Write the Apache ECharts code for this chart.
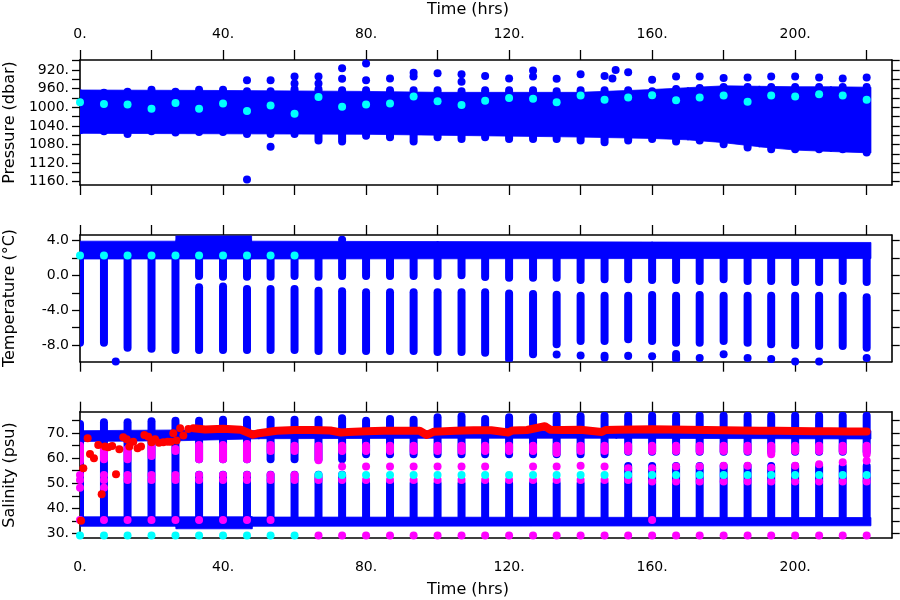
<!DOCTYPE html>
<html><head><meta charset="utf-8">
<script src="https://cdn.jsdelivr.net/npm/echarts@6/dist/echarts.min.js"></script>
<style>html,body{margin:0;padding:0;background:#fff}#c{width:900px;height:600px}</style>
</head><body><div id="c"></div>
<script>
// ---------- axes / ticks ----------
const timeTicks = [0, 20, 40, 60, 80, 100, 120, 140, 160, 180, 200, 220];
const timeLabels = [0, 40, 80, 120, 160, 200];
const pressureTicks = [900, 920, 940, 960, 980, 1000, 1020, 1040, 1060, 1080, 1100, 1120, 1140, 1160];
const pressureLabels = [920, 960, 1000, 1040, 1080, 1120, 1160];
const tempTicks = [-8, -6, -4, -2, 0, 2, 4];
const tempLabels = [-8, -4, 0, 4];
const salTicks = [30, 35, 40, 45, 50, 55, 60, 65, 70, 75];
const salLabels = [30, 40, 50, 60, 70];

// ---------- cast times (hrs) ----------
const castTimes = [0, 6.7, 13.3, 20, 26.7, 33.3, 40, 46.7, 53.3, 60, 66.7, 73.3, 80, 86.7, 93.3, 100, 106.7, 113.3, 120, 126.7, 133.3, 140, 146.7, 153.3, 160, 166.7, 173.3, 180, 186.7, 193.3, 200, 206.7, 213.3, 220];

// ---------- pressure ----------
const pBandT   = [0, 40, 80, 100, 140, 160, 170, 180, 190, 200, 210, 221];
const pBandTop = [963, 964, 966, 968, 968, 962, 958, 954, 955, 956, 956, 957];
const pBandBot = [1056, 1057, 1058, 1060, 1064, 1067, 1070, 1076, 1085, 1092, 1095, 1098];
const pColTop = [962, 960, 958, 954, 958, 954, 954, 957, 957, 953, 953, 955, 955, 955, 955, 955, 957, 955, 955, 955, 957, 955, 955, 955, 957, 952, 950, 948, 948, 948, 948, 948, 948, 948];
const pColBot = [1058, 1060, 1066, 1060, 1063, 1062, 1062, 1066, 1066, 1066, 1080, 1082, 1070, 1073, 1082, 1073, 1077, 1073, 1077, 1077, 1077, 1080, 1084, 1080, 1077, 1082, 1080, 1088, 1095, 1099, 1099, 1099, 1099, 1106];
const pOutT = [46.7, 46.7, 53.3, 53.3, 60, 60, 66.7, 66.7, 73.3, 73.3, 80, 80, 86.7, 93.3, 93.3, 100, 106.7, 106.7, 113.3, 120, 126.7, 126.7, 133.3, 140, 146.7, 148.9, 149.8, 153.3, 160, 166.7, 173.3, 180, 186.7, 193.3, 200, 206.7, 213.3, 220];
const pOutP = [942, 1155, 942, 1085, 934, 949, 934, 949, 916, 939, 906, 942, 938, 926, 934, 927, 929, 945, 933, 938, 921, 934, 939, 929, 933, 938, 920, 925, 941, 934, 934, 937, 936, 934, 934, 936, 938, 936];
const pCyan = [989, 993, 994, 1003, 991, 1003, 992, 1008, 996, 1014, 978, 999, 994, 992, 977, 987, 995, 986, 980, 982, 989, 975, 984, 979, 974, 985, 979, 975, 988, 975, 977, 972, 975, 984];

// ---------- temperature ----------
const tBandT   = [0, 27, 27, 47.8, 47.8, 100, 160, 221];
const tBandTop = [3.95, 3.95, 4.55, 4.55, 3.95, 3.9, 3.85, 3.8];
const tBandBot = [1.9, 1.9, 1.9, 1.9, 1.9, 1.92, 1.95, 1.95];
const tGapTop = [null, null, null, null, null, -0.52, -0.6, -0.6, -0.6, -0.52, -0.6, -0.52, -0.52, -0.52, -0.52, -0.52, -0.44, -0.64, -0.72, -0.72, -0.72, -0.98, -0.9, -0.9, -0.98, -0.98, -1.1, -0.9, -1.1, -1.1, -1.21, -1.21, -1.1, -1.21];
const tGapBot = [null, null, null, null, null, -0.9, -0.8, -1.1, -1.1, -1.1, -1.29, -1.36, -1.48, -1.48, -1.48, -1.48, -1.48, -1.48, -1.6, -1.67, -1.75, -1.87, -1.87, -1.87, -1.79, -1.87, -1.79, -1.87, -1.87, -1.87, -1.87, -1.87, -1.87, -2.05];
const tBottom = [-8.2, -8.2, -8.77, -8.89, -9.04, -9.04, -9.04, -9.04, -9.04, -9.04, -9.15, -9.15, -9.15, -9.15, -9.15, -9.27, -9.27, -9.34, -10.1, -9.53, -8.38, -8.0, -8.0, -7.81, -8.0, -8.2, -8.2, -8.0, -8.2, -8.38, -8.5, -8.58, -8.58, -8.77];
const tDeepT   = [140, 146.7, 153.3, 160, 166.7, 180];
const tDeepTop = [-8.77, -8.77, -8.77, -8.89, -8.58, -8.77];
const tDeepBot = [-9.64, -9.92, -9.72, -9.72, -10.1, -9.34];
const tDotT = [10, 73.3, 133.3, 173.3, 186.7, 193.3, 200, 206.7, 213.3, 220];
const tDotV = [-9.9, 4.1, -9.1, -9.5, -9.5, -9.6, -9.9, -9.9, -10.0, -9.5];
const tCyan = [2.3, 2.3, 2.3, 2.3, 2.3, 2.3, 2.3, 2.3, 2.3, 2.3];

// ---------- salinity ----------
const sHiBandT   = [0, 28, 50, 100, 150, 221];
const sHiBandTop = [71.0, 71.3, 71.0, 71.0, 71.0, 71.0];
const sHiBandBot = [66.7, 67.0, 67.8, 68.0, 68.0, 67.7];
const sLoBandT   = [0, 27, 27, 48, 48, 221];
const sLoBandTop = [36.6, 36.6, 36.6, 36.6, 36.5, 36.3];
const sLoBandBot = [32.8, 32.8, 31.8, 31.8, 32.8, 33.0];
const sTop = [75.3, 76.0, 76.0, 76.4, 76.6, 76.6, 77.0, 77.0, 77.0, 77.0, 77.0, 77.6, 76.6, 77.3, 77.0, 78.0, 78.4, 77.3, 78.0, 78.0, 78.6, 78.4, 78.6, 78.6, 78.6, 78.6, 78.6, 78.6, 78.6, 78.6, 78.6, 78.6, 78.6, 78.6];
const sUpBot  = [null, null, null, null, null, 58.0, 58.0, 58.0, 58.0, 58.0, 58.0, 58.0, 60.0, 60.0, 60.0, 60.0, 60.0, 60.0, 60.0, 60.0, 60.0, 60.0, 60.0, 61.0, 61.0, 61.0, 61.0, 61.0, 61.0, 61.0, 61.0, 61.0, 61.0, 61.0];
const sLowTop = [null, null, null, null, null, 55.0, 55.0, 55.0, 55.0, 55.0, 55.0, 55.0, 51.5, 51.5, 51.5, 51.5, 51.5, 51.5, 51.5, 51.5, 51.5, 51.5, 51.5, 58.5, 58.5, 58.5, 58.5, 58.5, 58.5, 58.5, 58.5, 58.5, 58.5, 58.5];
const sLowEnd = 35;
const mgTop = [66.6, 65.3, 65.3, 66.0, 65.3, 66.9, 66.9, 67.3, 66.9, 66.6, 66.6, 66.6, 66.6, 66.6, 66.6, 66.6, 66.6, 66.6, 66.6, 66.6, 66.6, 66.6, 66.6, 66.6, 66.6, 66.6, 66.6, 66.6, 66.6, 66.6, 66.6, 66.6, 66.6, 66.6];
const mgBot = [57.3, 58.0, 58.0, 59.3, 61.3, 58.0, 58.0, 58.0, 61.3, 61.3, 57.6, 61.3, 61.3, 61.3, 61.3, 61.3, 61.3, 61.3, 61.3, 61.3, 60.5, 61.3, 61.3, 61.3, 61.3, 61.3, 61.3, 61.3, 61.3, 60.0, 61.3, 61.3, 61.3, 60.0];
const sMag57 = [null, null, null, null, null, null, null, null, null, null, null, 56.7, 56.7, 56.7, 56.7, 56.7, 56.7, 56.7, null, 56.7, 56.7, 57.0, 56.7, 56.0, 56.0, 56.7, 56.7, 57.0, 57.0, 56.2, 57.0, 57.6, 58.4, 59.0];
const sMag53 = [53.3, 53.3, 53.3, 53.3, 53.3, 53.3, 53.3, 53.3, 53.3, 53.3, null, null, null, null, null, null, null, null, null, null, null, null, null, null, null, null, null, null, null, null, null, null, null, null];
const sMag51 = [51.3, 51.3, 51.3, 51.3, 51.3, 51.3, 51.3, 51.3, 51.3, 51.3, 51.3, 51.3, 51.3, 51.3, 51.3, 51.3, 51.3, 51.3, 51.3, 51.3, 51.3, 51.3, 51.3, 51.3, 50.7, 50.7, 50.7, 50.7, 50.7, 50.7, 50.7, 50.7, 50.7, 50.7];
const sMag48 = [48.2, 48.2, null, null, null, null, null, null, null, null, null, null, null, null, null, null, null, null, null, null, null, null, null, null, null, null, null, null, null, null, null, null, null, null];
const sMag35 = [35.3, 35.3, 35.3, 35.3, 35.3, 35.3, 35.3, 35.3, 35.3, null, null, null, null, null, null, null, null, null, null, null, null, null, null, null, 35.3, null, null, null, null, null, null, null, null, null];
const sMag29 = [null, null, null, null, null, null, null, null, null, null, 29.1, 29.1, 29.1, 29.1, 29.1, 29.1, 29.1, 29.1, 29.1, 29.1, 29.1, 29.1, 29.1, 29.1, 29.1, 29.1, 29.1, 29.1, 29.1, 29.1, 29.1, 29.1, 29.1, 29.1];
const sCyan = [29.1, 29.1, 29.1, 29.1, 29.1, 29.1, 29.1, 29.1, 29.1, 29.1, 53.3, 53.3, 53.3, 53.3, 53.3, 53.3, 53.3, 53.3, 53.3, 53.3, 53.3, 53.3, 53.3, 53.3, 53.3, 53.3, 53.3, 53.3, 53.3, 53.3, 53.3, 53.3, 53.3, 53.3];
const redEarlyT = [0.3, 0.93, 2.14, 2.8, 3.9, 5.1, 6.06, 7.0, 7.9, 9.0, 10.07, 11.0, 12.1, 13.05, 13.8, 14.9, 16.1, 17.06, 18.0, 19.1, 20.0, 21.0, 22.1, 23.3, 24.5, 25.4, 26.1, 27.0, 28.0, 28.9, 30.3];
const redEarlyS = [35.0, 56.0, 68.0, 61.7, 60.0, 65.3, 45.6, 64.7, 64.4, 64.9, 53.6, 63.6, 68.4, 67.6, 64.7, 66.6, 64.0, 64.7, 69.3, 68.6, 66.4, 67.6, 66.2, 66.4, 66.6, 66.6, 70.0, 67.1, 72.0, 69.1, 71.7];
const redLineT = [31.7, 35, 40, 45, 48.4, 50, 55, 60, 65, 70, 73, 75, 80, 85, 90, 95, 97, 99, 105, 110, 115, 119.8, 121, 125, 130, 131.5, 135, 140, 145.9, 147, 150, 155, 160, 165, 170, 175, 180, 185, 190, 195, 200, 205, 210, 215, 220];
const redLineS = [72.0, 71.5, 71.8, 71.4, 69.4, 70.0, 71.0, 71.3, 71.3, 71.1, 70.3, 70.5, 70.8, 71.0, 71.0, 71.0, 69.3, 70.6, 71.0, 71.2, 71.2, 70.3, 71.1, 71.3, 72.8, 71.4, 71.3, 71.4, 70.5, 71.3, 71.4, 71.5, 71.6, 71.5, 71.4, 71.3, 71.2, 71.1, 71.0, 71.0, 70.9, 70.8, 70.8, 70.7, 70.7];

// ---------- colours ----------
const BLUE = '#0000ff', CYAN = '#00ffff', MAG = '#ff00ff', RED = '#ff0000';
const FONT = 'DejaVu Sans';

// ---------- helpers ----------
function bandData(ts, tops, bots) {
  const out = [];
  for (let i = 0; i < ts.length - 1; i++) out.push([ts[i], tops[i], bots[i], ts[i + 1], tops[i + 1], bots[i + 1]]);
  return out;
}
function bandItem(params, api) {
  const a = api.coord([api.value(0), api.value(1)]);
  const b = api.coord([api.value(0), api.value(2)]);
  const c = api.coord([api.value(3), api.value(5)]);
  const d = api.coord([api.value(3), api.value(4)]);
  const col = api.visual('color');
  // slight horizontal overlap hides seams between neighbouring pieces
  const pts = [[a[0] - 0.7, a[1]], [d[0] + 0.7, d[1]], [c[0] + 0.7, c[1]], [b[0] - 0.7, b[1]]];
  return { type: 'polygon', shape: { points: pts }, style: { fill: col, stroke: col, lineWidth: 0.8 } };
}
function capsuleItem(params, api) {
  const p1 = api.coord([api.value(0), api.value(1)]);
  const p2 = api.coord([api.value(0), api.value(2)]);
  const y1 = Math.min(p1[1], p2[1]), y2 = Math.max(p1[1], p2[1]);
  const h = Math.max(y2 - y1, 8), cy = (y1 + y2) / 2;
  return { type: 'rect', shape: { x: p1[0] - 4, y: cy - h / 2, width: 8, height: h, r: 4 }, style: { fill: api.visual('color') } };
}
function pairs(ts, vs) {
  const out = [];
  for (let i = 0; i < ts.length; i++) if (vs[i] !== null && vs[i] !== undefined) out.push([ts[i], vs[i]]);
  return out;
}
function bandSeries(g, data, z) {
  return { type: 'custom', xAxisIndex: 2 * g, yAxisIndex: 2 * g, renderItem: bandItem, data: data, clip: true,
    encode: { x: [0, 3], y: [1, 2, 4, 5] }, itemStyle: { color: BLUE }, z: z, silent: true };
}
function capsuleSeries(g, data, color, z) {
  return { type: 'custom', xAxisIndex: 2 * g, yAxisIndex: 2 * g, renderItem: capsuleItem, data: data, clip: true,
    encode: { x: 0, y: [1, 2] }, itemStyle: { color: color }, z: z, silent: true };
}
function dotSeries(g, data, color, z) {
  return { type: 'scatter', xAxisIndex: 2 * g, yAxisIndex: 2 * g, data: data, symbolSize: 8, clip: true,
    itemStyle: { color: color, opacity: 1 }, z: z, silent: true };
}

// ---------- built data ----------
const pCols = castTimes.map((t, i) => [t, pColTop[i], pColBot[i]]);
const tStripes = [];
castTimes.forEach((t, i) => {
  if (tGapTop[i] === null) tStripes.push([t, 2.5, tBottom[i]]);
  else { tStripes.push([t, 2.5, tGapTop[i]]); tStripes.push([t, tGapBot[i], tBottom[i]]); }
});
tDeepT.forEach((t, i) => tStripes.push([t, tDeepTop[i], tDeepBot[i]]));
const sStripes = [];
castTimes.forEach((t, i) => {
  if (sUpBot[i] === null) sStripes.push([t, sTop[i], sLowEnd]);
  else { sStripes.push([t, sTop[i], sUpBot[i]]); sStripes.push([t, sLowTop[i], sLowEnd]); }
});
const sBlobs = castTimes.map((t, i) => [t, mgTop[i], mgBot[i]]);
const sMagDots = [].concat(pairs(castTimes, sMag57), pairs(castTimes, sMag53), pairs(castTimes, sMag51),
  pairs(castTimes, sMag48), pairs(castTimes, sMag35), pairs(castTimes, sMag29));

// ---------- axes ----------
const grids = [
  { left: 80, width: 811.7, top: 60, height: 125 },
  { left: 80, width: 811.7, top: 235, height: 126.7 },
  { left: 80, width: 811.7, top: 411.7, height: 126.3 }
];
function xAx(g, pos, showLabel, showTick) {
  return { type: 'value', gridIndex: g, position: pos, min: 0, max: 227,
    axisLine: { show: true, onZero: false, lineStyle: { color: '#000', width: 1.6 } },
    axisTick: { show: showTick, inside: false, length: 10, customValues: timeTicks, lineStyle: { color: '#000', width: 1.3 } },
    axisLabel: { show: showLabel, customValues: timeLabels, formatter: v => v + '.', margin: pos === 'top' ? 19 : 22,
      color: '#000', fontFamily: FONT, fontSize: 14 },
    splitLine: { show: false } };
}
function yAx(g, pos, min, max, inverse, ticks, labels, fmt) {
  return { type: 'value', gridIndex: g, position: pos, min: min, max: max, inverse: inverse,
    axisLine: { show: true, onZero: false, lineStyle: { color: '#000', width: 1.6 } },
    axisTick: { show: true, inside: false, length: 8, customValues: ticks, lineStyle: { color: '#000', width: 1.3 } },
    axisLabel: { show: pos === 'left', customValues: labels, formatter: fmt, margin: 11, color: '#000', fontFamily: FONT, fontSize: 14 },
    splitLine: { show: false } };
}
const fmtDot = v => v + '.';
const fmtT = v => v.toFixed(1);

const option = {
  animation: false,
  backgroundColor: '#fff',
  grid: grids,
  xAxis: [
    xAx(0, 'top', true, true), xAx(0, 'bottom', false, true),
    xAx(1, 'top', false, true), xAx(1, 'bottom', false, true),
    xAx(2, 'top', false, true), xAx(2, 'bottom', true, false)
  ],
  yAxis: [
    yAx(0, 'left', 898.5, 1167, true, pressureTicks, pressureLabels, fmtDot),
    yAx(0, 'right', 898.5, 1167, true, pressureTicks, pressureLabels, fmtDot),
    yAx(1, 'left', -9.92, 4.66, false, tempTicks, tempLabels, fmtT),
    yAx(1, 'right', -9.92, 4.66, false, tempTicks, tempLabels, fmtT),
    yAx(2, 'left', 28.12, 78.6, false, salTicks, salLabels, fmtDot),
    yAx(2, 'right', 28.12, 78.6, false, salTicks, salLabels, fmtDot)
  ],
  series: [
    // pressure
    bandSeries(0, bandData(pBandT, pBandTop, pBandBot), 2),
    capsuleSeries(0, pCols, BLUE, 3),
    dotSeries(0, pairs(pOutT, pOutP), BLUE, 3),
    dotSeries(0, pairs(castTimes, pCyan), CYAN, 5),
    // temperature
    bandSeries(1, bandData(tBandT, tBandTop, tBandBot), 2),
    capsuleSeries(1, tStripes, BLUE, 3),
    dotSeries(1, pairs(tDotT, tDotV), BLUE, 3),
    dotSeries(1, pairs(castTimes.slice(0, tCyan.length), tCyan), CYAN, 5),
    // salinity
    bandSeries(2, bandData(sHiBandT, sHiBandTop, sHiBandBot).concat(bandData(sLoBandT, sLoBandTop, sLoBandBot)), 2),
    capsuleSeries(2, sStripes, BLUE, 3),
    capsuleSeries(2, sBlobs, MAG, 4),
    dotSeries(2, sMagDots, MAG, 4),
    dotSeries(2, pairs(castTimes, sCyan), CYAN, 5),
    { type: 'line', xAxisIndex: 4, yAxisIndex: 4, data: pairs(redLineT, redLineS), showSymbol: false, symbol: 'none',
      lineStyle: { color: RED, width: 8, cap: 'round', join: 'round' }, z: 6, silent: true, clip: true },
    dotSeries(2, pairs(redEarlyT, redEarlyS), RED, 6)
  ],
  graphic: [
    { type: 'text', x: 468, y: 10, style: { text: 'Time (hrs)', font: '16px "DejaVu Sans"', fill: '#000', align: 'center', verticalAlign: 'middle' } },
    { type: 'text', x: 468, y: 590, style: { text: 'Time (hrs)', font: '16px "DejaVu Sans"', fill: '#000', align: 'center', verticalAlign: 'middle' } },
    { type: 'text', x: 10, y: 122.5, rotation: Math.PI / 2, style: { text: 'Pressure (dbar)', font: '16px "DejaVu Sans"', fill: '#000', align: 'center', verticalAlign: 'middle' } },
    { type: 'text', x: 10, y: 298, rotation: Math.PI / 2, style: { text: 'Temperature (°C)', font: '16px "DejaVu Sans"', fill: '#000', align: 'center', verticalAlign: 'middle' } },
    { type: 'text', x: 10, y: 475, rotation: Math.PI / 2, style: { text: 'Salinity (psu)', font: '16px "DejaVu Sans"', fill: '#000', align: 'center', verticalAlign: 'middle' } }
  ]
};
const chart = echarts.init(document.getElementById('c'), null, { renderer: 'canvas', width: 900, height: 600 });
chart.setOption(option);
</script>
</body></html>
